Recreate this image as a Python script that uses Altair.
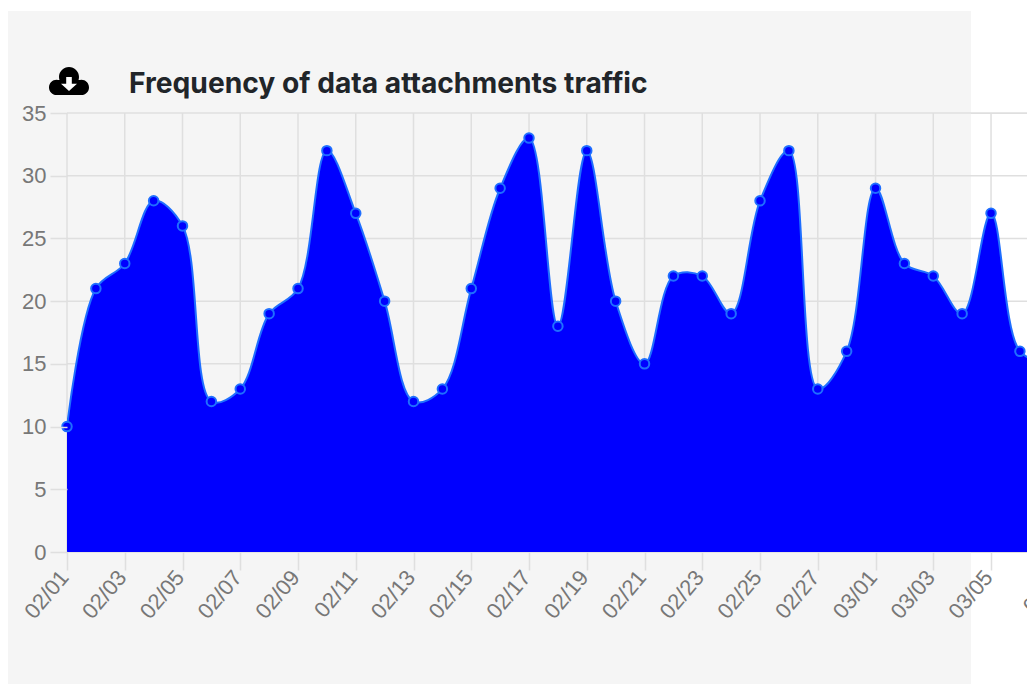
import altair as alt
import pandas as pd

dates = pd.date_range("2021-02-01", periods=35).strftime("%Y-%m-%d").tolist()
values = [10, 21, 23, 28, 26, 12, 13, 19, 21, 32, 27, 20, 12, 13, 21, 29, 33, 18,
          32, 20, 15, 22, 22, 19, 28, 32, 13, 16, 29, 23, 22, 19, 27, 16, 15]
tick_dates = dates[0:33:2]
y_ticks = [0, 5, 10, 15, 20, 25, 30, 35]
title_text = "Frequency of data attachments traffic"

CLOUD = ("M-1 0.32 A0.38 0.38 0 1 1 -0.24 0.32 A0.38 0.38 0 1 1 -1 0.32 Z "
         "M0.24 0.32 A0.38 0.38 0 1 1 1 0.32 A0.38 0.38 0 1 1 0.24 0.32 Z "
         "M-0.5 -0.2 A0.5 0.5 0 1 1 0.5 -0.2 A0.5 0.5 0 1 1 -0.5 -0.2 Z "
         "M-0.62 -0.05 L0.62 -0.05 L0.62 0.7 L-0.62 0.7 Z")
ARROW = "M-0.14 -0.2 L0.14 -0.2 L0.14 0.14 L0.4 0.14 L0 0.5 L-0.4 0.14 L-0.14 0.14 Z"

PLOT_W, PLOT_H = 960, 439
GRID = "#dfdfdf"
df = pd.DataFrame({"date": dates, "value": values})
one = pd.DataFrame({"a": [0]})

x_scale = alt.Scale(domain=["2021-02-01T00:00:00", "2021-03-06T05:54:00"])
y_scale = alt.Scale(domain=[0, 35], nice=False)
X = alt.X("date:T", scale=x_scale, title=None,
          axis=alt.Axis(values=tick_dates, format="%m/%d", labelAngle=-50, labelAlign="right",
                        labelBaseline="middle", labelFont="Liberation Sans", labelFontSize=22,
                        labelColor="#777777", labelPadding=3, labelOffset=-3, tickSize=18, zindex=1,
                        tickColor=GRID, tickWidth=1.5, domain=False, grid=False,
                        labelOverlap=False, labelFlush=False, labelBound=False))
Y = alt.Y("value:Q", scale=y_scale, title=None,
          axis=alt.Axis(values=y_ticks, labelFont="Liberation Sans", labelFontSize=22,
                        labelColor="#777777", labelPadding=4, tickSize=17, zindex=1,
                        tickColor=GRID, tickWidth=1.5, domain=False, grid=False))

panel = alt.Chart(one).mark_rect(color="#f5f5f5").encode(
    x=alt.value(-59), x2=alt.value(904), y=alt.value(-102), y2=alt.value(571))
vgrid = alt.Chart(pd.DataFrame({"date": tick_dates})).mark_rule(color=GRID, strokeWidth=1.5).encode(
    x=X, y=alt.value(0), y2=alt.value(PLOT_H))
hgrid = alt.Chart(pd.DataFrame({"value": y_ticks})).mark_rule(color=GRID, strokeWidth=1.5).encode(
    y=Y, x=alt.value(0), x2=alt.value(PLOT_W))
axes = alt.Chart(df).mark_point(opacity=0).encode(x=X, y=Y)
area = alt.Chart(df).mark_area(color="#0000ff", interpolate="catmull-rom", clip=True,
                               line=False).encode(x=X, y=Y)
line = alt.Chart(df).mark_line(color="#1f6fff", strokeWidth=2, interpolate="catmull-rom",
                               clip=True).encode(x=X, y=Y)
points = alt.Chart(df).mark_circle(size=90, color="#0000ff", opacity=1, stroke="#1f6fff",
                                   strokeWidth=2).encode(x=X, y=Y)
extra = alt.Chart(pd.DataFrame({"date": [dates[34]], "label": ["03/07"]})).mark_text(
    font="Liberation Sans", fontSize=22, color="#777777", angle=310, align="right",
    baseline="middle", dy=21, dx=-3).encode(
    x=alt.X("date:T", scale=x_scale), y=alt.value(PLOT_H), text="label:N")
cloud = alt.Chart(one).mark_point(
    shape=CLOUD, filled=True, color="#000000", opacity=1, size=1600).encode(
    x=alt.value(2), y=alt.value(-32))
arrow = alt.Chart(one).mark_point(
    shape=ARROW, filled=True, color="#ffffff", opacity=1, size=1600).encode(
    x=alt.value(2), y=alt.value(-32))
title = alt.Chart(pd.DataFrame({"t": [title_text]})).mark_text(
    font="Inter", fontSize=28.2, fontWeight="bold", color="#212529", align="left",
    baseline="alphabetic").encode(x=alt.value(62), y=alt.value(-20), text="t:N")

chart = alt.layer(panel, vgrid, hgrid, axes, area, line, points, extra,
                  cloud, arrow, title).properties(
    width=PLOT_W, height=PLOT_H,
    autosize=alt.AutoSizeParams(type="none"),
    padding={"left": 59, "top": 105, "right": 0, "bottom": 132},
).configure_view(stroke=None).configure(background="#ffffff")

chart.save("out.html", embed_options={"renderer": "svg", "actions": False})
